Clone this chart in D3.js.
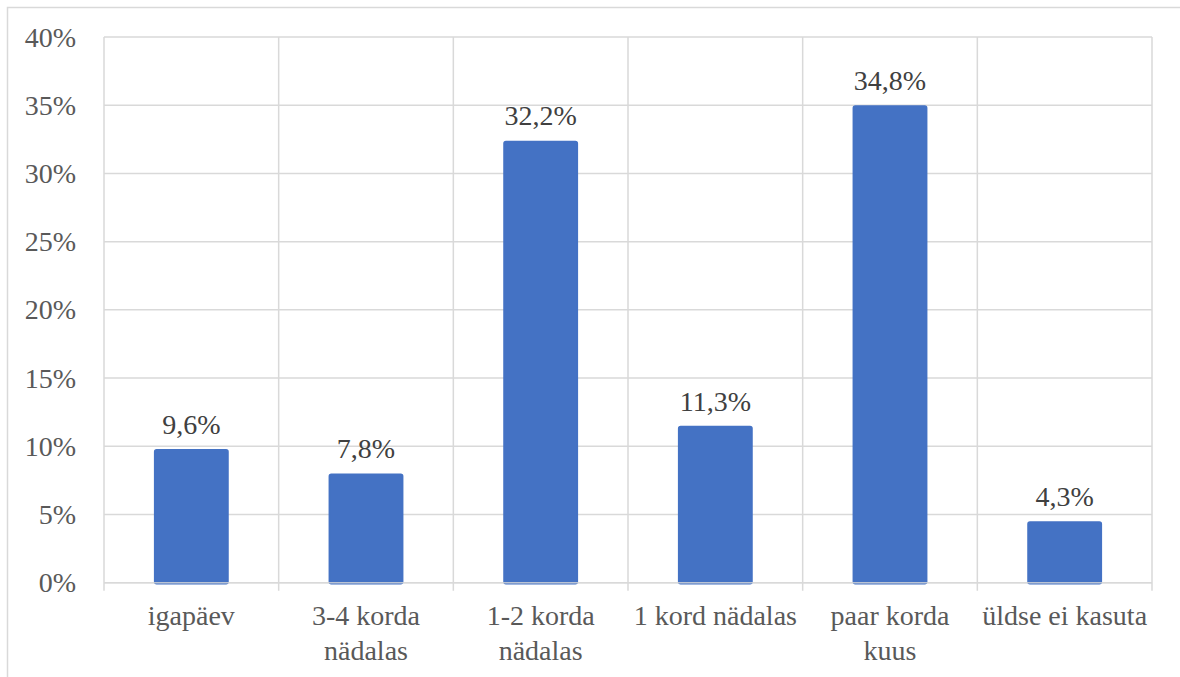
<!DOCTYPE html>
<html>
<head>
<meta charset="utf-8">
<script src="https://cdn.jsdelivr.net/npm/d3@7"></script>
<style>
  html, body { margin: 0; padding: 0; background: #fff; }
  svg { display: block; }
</style>
</head>
<body>
<svg id="chart" width="1180" height="677"></svg>
<script>
const categories = ["igapäev", "3-4 korda nädalas", "1-2 korda nädalas", "1 kord nädalas", "paar korda kuus", "üldse ei kasuta"];
const values = [9.6, 7.8, 32.2, 11.3, 34.8, 4.3];
const yTicks = [0, 5, 10, 15, 20, 25, 30, 35, 40];

const W = 1180, H = 677;
const margin = { left: 104, right: 28, top: 37, bottom: 94 };
const svg = d3.select("#chart");
const font = "'Liberation Serif', 'Times New Roman', serif";
const gridColor = "#d9d9d9";

// outer chart border
svg.append("rect").attr("x", 7.5).attr("y", 7.5).attr("width", W + 20).attr("height", H + 20)
  .attr("fill", "none").attr("stroke", gridColor).attr("stroke-width", 1.5);

const x = d3.scaleBand().domain(categories).range([margin.left, W - margin.right]).paddingInner(0).paddingOuter(0);
const y = d3.scaleLinear().domain([0, 40]).range([H - margin.bottom - 0.3, margin.top]);

const g = svg.append("g");

// horizontal gridlines
g.selectAll("line.hgrid").data(yTicks).join("line")
  .attr("class", "hgrid")
  .attr("x1", margin.left).attr("x2", W - margin.right)
  .attr("y1", d => y(d)).attr("y2", d => y(d))
  .attr("stroke", gridColor).attr("stroke-width", 1.5);

// vertical gridlines at category boundaries (extend below as ticks)
const bounds = categories.map(c => x(c)).concat([x.range()[1]]);
g.selectAll("line.vgrid").data(bounds).join("line")
  .attr("class", "vgrid")
  .attr("x1", d => d).attr("x2", d => d)
  .attr("y1", y(40)).attr("y2", y(0) + 8)
  .attr("stroke", gridColor).attr("stroke-width", 1.5);

// bars
const barW = x.bandwidth() * 0.42;
g.selectAll("rect.bar").data(values).join("rect")
  .attr("class", "bar")
  .attr("x", (d, i) => x(categories[i]) + (x.bandwidth() - barW) / 2)
  .attr("y", d => y(d) - 2)
  .attr("width", barW)
  .attr("height", d => y(0) - y(d) + 3)
  .attr("rx", 2)
  .attr("fill", "#4472c4")
  .attr("stroke", "#4472c4").attr("stroke-width", 1.5);

// zero line drawn over bars
g.append("line")
  .attr("x1", margin.left).attr("x2", W - margin.right)
  .attr("y1", y(0)).attr("y2", y(0))
  .attr("stroke", gridColor).attr("stroke-width", 1.5).attr("opacity", 0.8);

// y tick labels
g.selectAll("text.ytick").data(yTicks).join("text")
  .attr("class", "ytick")
  .attr("x", 76).attr("y", d => y(d)).attr("dy", "0.34em")
  .attr("text-anchor", "end")
  .attr("font-family", font).attr("font-size", 28).attr("fill", "#595959")
  .text(d => d + "%");

// data labels
g.selectAll("text.dlabel").data(values).join("text")
  .attr("class", "dlabel")
  .attr("x", (d, i) => x(categories[i]) + x.bandwidth() / 2)
  .attr("y", d => y(d) - 18)
  .attr("text-anchor", "middle")
  .attr("font-family", font).attr("font-size", 28).attr("fill", "#404040")
  .text(d => d.toFixed(1).replace(".", ",") + "%");

// category labels with wrapping
const maxW = x.bandwidth() - 4;
categories.forEach(c => {
  const cx = x(c) + x.bandwidth() / 2;
  const t = g.append("text")
    .attr("x", cx).attr("y", 625)
    .attr("text-anchor", "middle")
    .attr("font-family", font).attr("font-size", 28).attr("fill", "#595959");
  const words = c.split(" ");
  let line = [];
  let lineNo = 0;
  let tspan = t.append("tspan").attr("x", cx).attr("y", 625);
  words.forEach(w => {
    line.push(w);
    tspan.text(line.join(" "));
    if (tspan.node().getComputedTextLength() > maxW && line.length > 1) {
      line.pop();
      tspan.text(line.join(" "));
      line = [w];
      lineNo++;
      tspan = t.append("tspan").attr("x", cx).attr("y", 625 + lineNo * 35).text(w);
    }
  });
});
</script>
</body>
</html>
